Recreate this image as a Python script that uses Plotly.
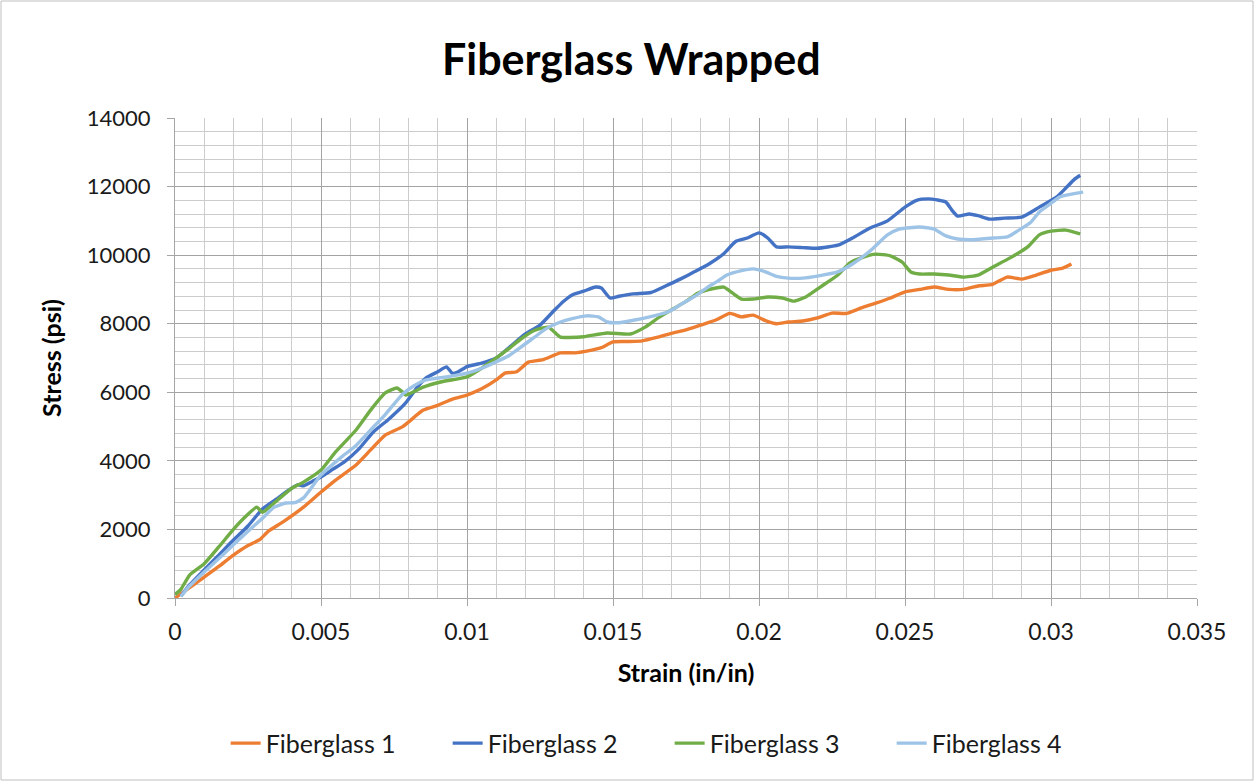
import plotly.graph_objects as go

# Stress-strain data for the four fiberglass-wrapped specimens
fg1_strain = [0, 0.0005, 0.001, 0.0015, 0.002, 0.0025, 0.0029, 0.0032, 0.0037, 0.0044, 0.005,
              0.0055, 0.0062, 0.0067, 0.0072, 0.0078, 0.0085, 0.009, 0.0095, 0.01, 0.0105, 0.011,
              0.0113, 0.0117, 0.0121, 0.0126, 0.0132, 0.0137, 0.0141, 0.0146, 0.015, 0.0155, 0.016,
              0.0165, 0.017, 0.0175, 0.018, 0.0185, 0.019, 0.0194, 0.0198, 0.0202, 0.0206, 0.021,
              0.0215, 0.022, 0.0225, 0.023, 0.0235, 0.024, 0.0245, 0.025, 0.0255, 0.026, 0.0265,
              0.027, 0.0275, 0.028, 0.0285, 0.029, 0.0295, 0.03, 0.0304, 0.0307]
fg1_stress = [0, 300, 610, 920, 1250, 1530, 1700, 1950, 2220, 2650, 3090,
              3440, 3880, 4320, 4750, 5000, 5480, 5620, 5800, 5920, 6100, 6360,
              6560, 6600, 6880, 6950, 7150, 7150, 7200, 7300, 7470, 7480, 7500,
              7600, 7720, 7820, 7960, 8100, 8300, 8200, 8250, 8100, 8000, 8050,
              8080, 8170, 8310, 8300, 8460, 8600, 8750, 8930, 9000, 9070, 9000,
              9000, 9100, 9150, 9360, 9300, 9420, 9560, 9620, 9740]

fg2_strain = [0.0002, 0.0005, 0.001, 0.0015, 0.002, 0.0025, 0.003, 0.0035, 0.0039, 0.0042, 0.0044,
              0.0047, 0.005, 0.0054, 0.0058, 0.0063, 0.0068, 0.0073, 0.0079, 0.0083, 0.0086, 0.009,
              0.0093, 0.0095, 0.0097, 0.01, 0.0105, 0.011, 0.0115, 0.012, 0.0125, 0.013, 0.0133,
              0.0136, 0.014, 0.0144, 0.0146, 0.0149, 0.0152, 0.0157, 0.0163, 0.0168, 0.0173, 0.0178,
              0.0183, 0.0188, 0.0192, 0.0196, 0.02, 0.0203, 0.0206, 0.021, 0.0215, 0.022, 0.0227,
              0.0232, 0.0238, 0.0244, 0.025, 0.0254, 0.0258, 0.0261, 0.0264, 0.0266, 0.0268, 0.0272,
              0.0275, 0.0279, 0.0284, 0.029, 0.0296, 0.0302, 0.0305, 0.0308, 0.031]
fg2_stress = [50, 380, 820, 1250, 1690, 2100, 2600, 2900, 3150, 3300, 3270,
              3400, 3530, 3750, 3970, 4350, 4850, 5200, 5690, 6150, 6420, 6600,
              6740, 6550, 6600, 6750, 6850, 7000, 7350, 7700, 7960, 8400, 8650,
              8840, 8950, 9070, 9040, 8750, 8800, 8870, 8910, 9100, 9300, 9520,
              9750, 10050, 10400, 10500, 10650, 10500, 10240, 10240, 10220, 10200, 10290,
              10500, 10790, 11000, 11400, 11600, 11640, 11610, 11550, 11320, 11140, 11200,
              11150, 11050, 11080, 11110, 11400, 11700, 11950, 12210, 12330]

fg3_strain = [0, 0.0002, 0.0005, 0.001, 0.0015, 0.002, 0.0024, 0.0028, 0.003, 0.0033, 0.0036,
              0.004, 0.0044, 0.005, 0.0055, 0.0062, 0.0067, 0.0072, 0.0076, 0.0078, 0.0079, 0.0085,
              0.0091, 0.01, 0.0105, 0.0109, 0.0114, 0.0118, 0.0123, 0.0126, 0.0128, 0.013, 0.0132,
              0.0135, 0.014, 0.0148, 0.0156, 0.0161, 0.0166, 0.0171, 0.0175, 0.0179, 0.0184, 0.0188,
              0.0191, 0.0194, 0.0198, 0.0203, 0.0208, 0.0212, 0.0216, 0.0221, 0.0227, 0.0231, 0.0235,
              0.024, 0.0245, 0.0249, 0.0252, 0.0255, 0.026, 0.0265, 0.027, 0.0275, 0.028, 0.0286,
              0.0292, 0.0296, 0.03, 0.0305, 0.031]
fg3_stress = [100, 250, 670, 1000, 1490, 2000, 2360, 2650, 2500, 2700, 2920,
              3200, 3380, 3730, 4260, 4900, 5480, 5980, 6125, 6000, 5920, 6150,
              6300, 6450, 6700, 6940, 7250, 7525, 7800, 7880, 7900, 7750, 7610,
              7600, 7620, 7730, 7700, 7900, 8200, 8450, 8650, 8890, 9020, 9070,
              8890, 8720, 8720, 8780, 8750, 8660, 8780, 9070, 9420, 9770, 9920,
              10030, 9980, 9800, 9510, 9450, 9450, 9420, 9360, 9420, 9650, 9920,
              10240, 10590, 10700, 10730, 10620]

fg4_strain = [0.0002, 0.0005, 0.001, 0.0015, 0.002, 0.0025, 0.003, 0.0034, 0.0038, 0.0041, 0.0044,
              0.005, 0.0057, 0.0062, 0.0067, 0.0072, 0.0078, 0.0082, 0.0086, 0.0093, 0.01, 0.0105,
              0.0109, 0.0114, 0.0118, 0.0123, 0.0127, 0.0132, 0.0136, 0.0141, 0.0145, 0.0148, 0.0152,
              0.0157, 0.0164, 0.0169, 0.0173, 0.0178, 0.0182, 0.0186, 0.0189, 0.0194, 0.0198, 0.0202,
              0.0206, 0.021, 0.0215, 0.022, 0.0227, 0.0232, 0.0238, 0.0244, 0.0248, 0.0255, 0.026,
              0.0264, 0.0268, 0.0273, 0.028, 0.0285, 0.0289, 0.0293, 0.0296, 0.0299, 0.0303, 0.0307,
              0.0311]
fg4_stress = [50, 350, 760, 1150, 1550, 1950, 2330, 2650, 2770, 2780, 2920,
              3590, 4110, 4450, 4900, 5350, 5950, 6200, 6360, 6450, 6560, 6700,
              6850, 7050, 7290, 7600, 7850, 8050, 8150, 8230, 8200, 8050, 8030,
              8100, 8230, 8350, 8550, 8800, 9040, 9250, 9420, 9550, 9600, 9520,
              9380, 9330, 9330, 9390, 9510, 9740, 10120, 10590, 10760, 10820, 10760,
              10560, 10470, 10450, 10500, 10530, 10730, 10950, 11260, 11450, 11700, 11780,
              11840]

series_names = ["Fiberglass 1", "Fiberglass 2", "Fiberglass 3", "Fiberglass 4"]
series_colors = ["#ED7D31", "#4472C4", "#70AD47", "#9DC3E6"]

x_tick_vals = [0, 0.005, 0.01, 0.015, 0.02, 0.025, 0.03, 0.035]
x_tick_text = ["0", "0.005", "0.01", "0.015", "0.02", "0.025", "0.03", "0.035"]
y_tick_vals = [0, 2000, 4000, 6000, 8000, 10000, 12000, 14000]

FONT = "Lato, 'Open Sans', sans-serif"

fig = go.Figure()
for name, color, xs, ys in zip(series_names, series_colors,
                               [fg1_strain, fg2_strain, fg3_strain, fg4_strain],
                               [fg1_stress, fg2_stress, fg3_stress, fg4_stress]):
    fig.add_trace(go.Scatter(
        x=xs, y=ys, name=name, mode="lines",
        line=dict(color=color, width=3.4, shape="spline", smoothing=0.5),
    ))

axis_common = dict(
    showline=True, linecolor="#A6A6A6", linewidth=1,
    ticks="outside", ticklen=7, tickcolor="#A6A6A6",
    showgrid=True, gridcolor="#A3A3A3", gridwidth=1,
    zeroline=False,
)

fig.update_xaxes(
    **axis_common,
    range=[0, 0.035],
    tickvals=x_tick_vals, ticktext=x_tick_text,
    tickfont=dict(family=FONT, size=23, color="#1a1a1a"),
    ticklabelstandoff=6,
    minor=dict(dtick=0.001, showgrid=True, gridcolor="#CCCCCC", gridwidth=1, ticks=""),
    title=dict(text="<b>Strain (in/in)</b>", font=dict(family=FONT, size=25, color="#000"), standoff=20),
)
fig.update_yaxes(
    **axis_common,
    range=[0, 14000],
    tickvals=y_tick_vals, tickformat="d",
    tickfont=dict(family=FONT, size=22, color="#1a1a1a"),
    ticklabelstandoff=12,
    minor=dict(dtick=400, showgrid=True, gridcolor="#CCCCCC", gridwidth=1, ticks=""),
    title=dict(text="<b>Stress (psi)</b>", font=dict(family=FONT, size=25, color="#000"), standoff=18),
)

# light frame around the whole chart
L, R, T, B = 175, 58, 118, 184
pw, ph = 1255 - L - R, 782 - T - B
fig.add_shape(type="rect", xref="paper", yref="paper",
              x0=-(L - 1) / pw, x1=1 + (R - 2) / pw, y0=-(B - 2) / ph, y1=1 + (T - 1) / ph,
              line=dict(color="#BFBFBF", width=1), layer="below")

fig.update_layout(
    width=1255, height=782,
    margin=dict(l=L, r=R, t=T, b=B),
    paper_bgcolor="white", plot_bgcolor="white",
    title=dict(text="<b>Fiberglass Wrapped</b>", x=0.503, xanchor="center",
               y=0.923, yanchor="middle",
               font=dict(family=FONT, size=43, color="#000")),
    legend=dict(orientation="h", x=0.484, xanchor="center", y=-0.255, yanchor="top",
                font=dict(family=FONT, size=25, color="#1a1a1a"),
                itemwidth=30, entrywidth=177),
    showlegend=True,
)

fig.write_html("out.html")
